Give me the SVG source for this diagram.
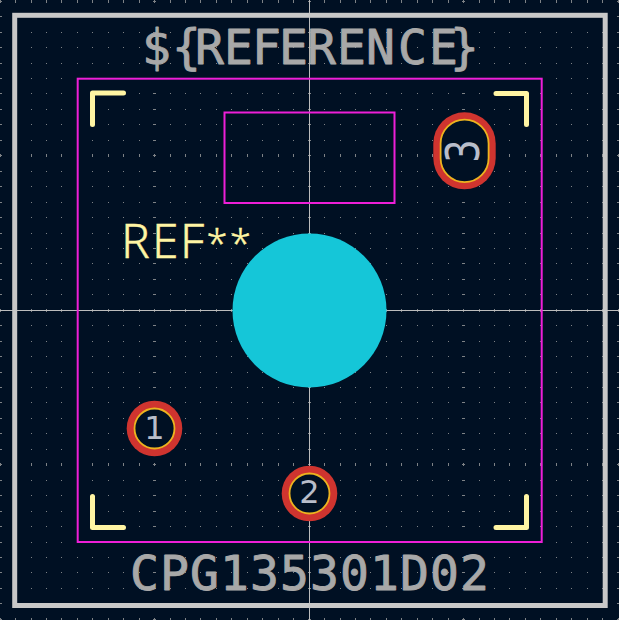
<svg xmlns="http://www.w3.org/2000/svg" width="619" height="620" viewBox="0 0 619 620">
<style>
.dots{fill:none;stroke:#7e8286;stroke-width:1}
.tall{fill:none;stroke:#7e8286;stroke-width:3}
.axis{stroke:#bcbcbc;stroke-width:1;shape-rendering:crispEdges}
.crt{fill:none;stroke:#ee1fd8;stroke-width:2}
.fab{fill:none;stroke:#fff5a3;stroke-width:5;stroke-linecap:round;stroke-linejoin:round}
.silk{fill:#a8a8a8;stroke:#a8a8a8;stroke-width:.9;stroke-linejoin:round;font-family:"DejaVu Sans Mono",monospace;font-size:48px}
.pad{fill:#cf342f}
.ring{fill:#001023;stroke:#ecb31f;stroke-width:1.8}
.num{fill:#b8bdca;font-family:"DejaVu Sans",sans-serif;font-size:32px;text-anchor:middle}
</style>
<defs>
<path id="row" d="M0 .5h1M15 .5h1M31 .5h1M46 .5h1M61 .5h1M77 .5h1M92 .5h1M108 .5h1M123 .5h1M139 .5h1M154 .5h1M170 .5h1M185 .5h1M200 .5h1M216 .5h1M231 .5h1M247 .5h1M262 .5h1M278 .5h1M293 .5h1M309 .5h1M324 .5h1M340 .5h1M355 .5h1M370 .5h1M386 .5h1M401 .5h1M417 .5h1M432 .5h1M448 .5h1M463 .5h1M479 .5h1M494 .5h1M509 .5h1M525 .5h1M540 .5h1M556 .5h1M571 .5h1M587 .5h1M602 .5h1M618 .5h1"/>
<path id="col" d="M-1 1.5h3M-1 16.5h3M-1 32.5h3M-1 47.5h3M-1 63.5h3M-1 78.5h3M-1 93.5h3M-1 109.5h3M-1 124.5h3M-1 140.5h3M-1 155.5h3M-1 171.5h3M-1 186.5h3M-1 202.5h3M-1 217.5h3M-1 233.5h3M-1 248.5h3M-1 263.5h3M-1 279.5h3M-1 294.5h3M-1 310.5h3M-1 325.5h3M-1 341.5h3M-1 356.5h3M-1 372.5h3M-1 387.5h3M-1 402.5h3M-1 418.5h3M-1 433.5h3M-1 449.5h3M-1 464.5h3M-1 480.5h3M-1 495.5h3M-1 511.5h3M-1 526.5h3M-1 542.5h3M-1 557.5h3M-1 572.5h3M-1 588.5h3M-1 603.5h3M-1 619.5h3"/>
</defs>
<rect width="619" height="620" fill="#001023"/>
<g id="grid">
<g class="dots">
<use href="#row" y="16"/><use href="#row" y="32"/><use href="#row" y="47"/><use href="#row" y="63"/><use href="#row" y="78"/><use href="#row" y="93"/><use href="#row" y="109"/><use href="#row" y="124"/><use href="#row" y="140"/><use href="#row" y="171"/><use href="#row" y="186"/><use href="#row" y="202"/><use href="#row" y="217"/><use href="#row" y="233"/><use href="#row" y="248"/><use href="#row" y="263"/><use href="#row" y="279"/><use href="#row" y="294"/><use href="#row" y="325"/><use href="#row" y="341"/><use href="#row" y="356"/><use href="#row" y="372"/><use href="#row" y="387"/><use href="#row" y="402"/><use href="#row" y="418"/><use href="#row" y="433"/><use href="#row" y="449"/><use href="#row" y="480"/><use href="#row" y="495"/><use href="#row" y="511"/><use href="#row" y="526"/><use href="#row" y="542"/><use href="#row" y="557"/><use href="#row" y="572"/><use href="#row" y="588"/><use href="#row" y="603"/>
<use href="#col" x="0"/><use href="#col" x="154"/><use href="#col" x="309"/><use href="#col" x="463"/><use href="#col" x="618"/>
</g>
<g class="tall">
<use href="#row" y="1"/><use href="#row" y="155"/><use href="#row" y="310"/><use href="#row" y="464"/><use href="#row" y="619"/>
</g>
</g>
<g id="axes">
<path class="axis" d="M309.5 0V620M0 310.5H619"/>
</g>
<g id="board-outline">
<rect x="14.7" y="15.3" width="590.5" height="590.2" fill="none" stroke="#c8c8c8" stroke-width="5"/>
</g>
<g id="courtyard">
<rect class="crt" x="77.7" y="78.7" width="464" height="463.3"/>
<rect class="crt" x="224.5" y="112.5" width="170" height="90.5"/>
</g>
<g id="fab-corners">
<path class="fab" d="M92.5 124.5V93H123.5"/>
<path class="fab" d="M496 93.5H526.5V124.5"/>
<path class="fab" d="M92.5 496.5V527.5H123.5"/>
<path class="fab" d="M496 527.5H526.5V496.5"/>
</g>
<g id="value">
<text class="silk" y="64" x="142 172 195 224 252 279 307 337 366 398 429 450">${REFERENCE}</text>
</g>
<g id="footprint-name">
<text class="silk" y="590" x="130 160 190 220 250 280 310 340 370 400 430 460">CPG135301D02</text>
</g>
<g id="reference">
<text y="258" fill="#fff5a3" stroke="#fff5a3" stroke-width=".4" font-family="'Noto Sans',sans-serif" font-weight="300" font-size="48"><tspan x="121">R</tspan><tspan x="152">E</tspan><tspan x="180">F</tspan><tspan x="206.5" y="257" font-size="38">*</tspan><tspan x="230" font-size="38">*</tspan></text>
</g>
<g id="hole"><circle cx="309.5" cy="310.5" r="77" fill="#15c6d8"/></g>
<g id="pad-1">
<circle class="pad" cx="154.5" cy="428.5" r="27.8"/>
<circle class="ring" cx="154.5" cy="428.5" r="20"/>
<text class="num" x="154.5" y="438.5">1</text>
</g>
<g id="pad-2">
<circle class="pad" cx="309.5" cy="493.5" r="27.8"/>
<circle class="ring" cx="309.5" cy="493.5" r="20"/>
<text class="num" x="309.5" y="503">2</text>
</g>
<g id="pad-3">
<rect class="pad" x="433.3" y="112.3" width="62.4" height="77" rx="31.2"/>
<rect class="ring" x="440.6" y="119.6" width="48" height="62.6" rx="24"/>
<text class="num" style="font-size:46px" transform="translate(479 151) rotate(-90) scale(.8 1)" x="0" y="0">3</text>
</g>
</svg>
